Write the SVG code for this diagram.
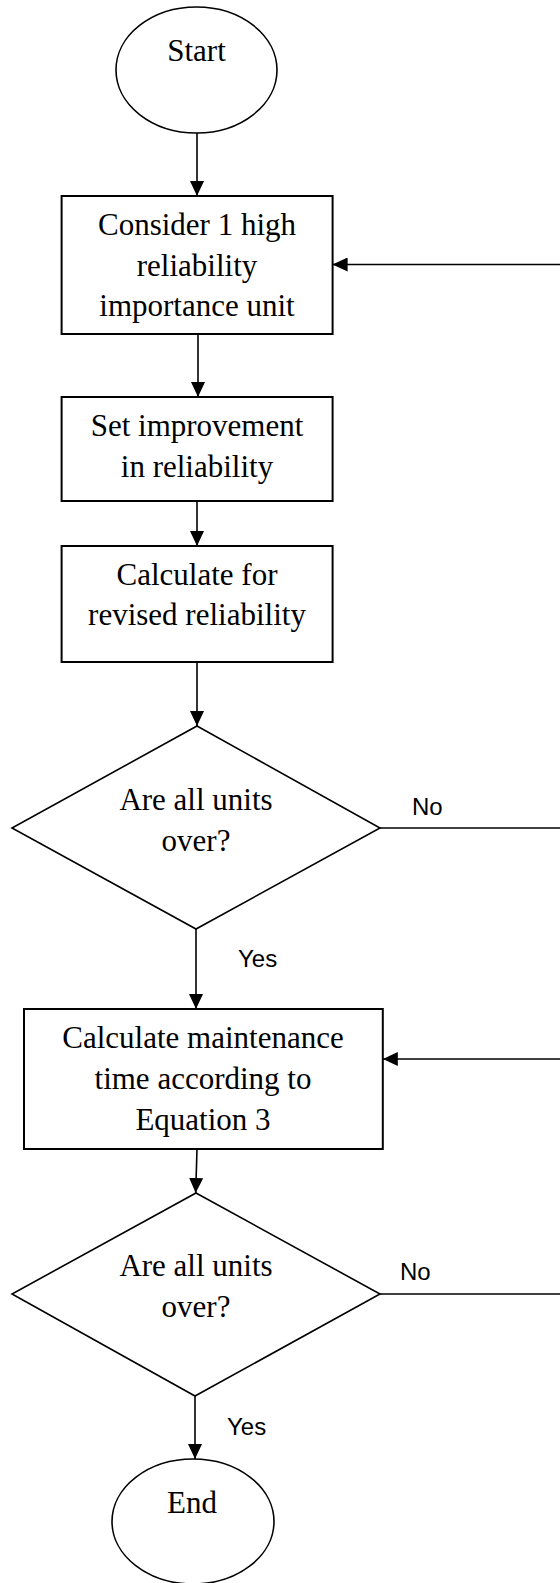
<svg xmlns="http://www.w3.org/2000/svg" width="560" height="1583" viewBox="0 0 560 1583">
  <style>
    .shape { fill: #ffffff; stroke: #000000; stroke-width: 1.6; }
    .box { fill: #ffffff; stroke: #000000; stroke-width: 2; }
    .label { font-family: "Liberation Serif", "Times New Roman", serif; font-size: 31px; fill: #000000; text-anchor: middle; }
    .branch { font-family: "Liberation Sans", Arial, sans-serif; font-size: 24px; fill: #000000; }
    .conn { fill: none; stroke: #000000; stroke-width: 1.6; }
    .arrow { marker-end: url(#head); }
  </style>
  <defs>
    <marker id="head" markerUnits="userSpaceOnUse" markerWidth="15" markerHeight="14" refX="15" refY="7" orient="auto">
      <path d="M0,0 L15,7 L0,14 Z" fill="#000000"/>
    </marker>
  </defs>

  <rect x="0" y="0" width="560" height="1583" fill="#ffffff"/>

  <!-- connectors -->
  <g id="connectors">
    <line class="conn arrow" x1="197" y1="133" x2="197" y2="196"/>
    <line class="conn arrow" x1="198" y1="334" x2="198" y2="397"/>
    <line class="conn arrow" x1="197" y1="501" x2="197" y2="546"/>
    <line class="conn arrow" x1="197" y1="662" x2="197" y2="726"/>
    <line class="conn arrow" x1="196" y1="929" x2="196" y2="1009"/>
    <line class="conn arrow" x1="197" y1="1149" x2="195.7" y2="1193"/>
    <line class="conn arrow" x1="195" y1="1396" x2="195" y2="1459"/>
    <line class="conn" x1="380" y1="828" x2="560" y2="828"/>
    <line class="conn" x1="380" y1="1294" x2="560" y2="1294"/>
    <line class="conn arrow" x1="560" y1="264.5" x2="332.6" y2="264.5"/>
    <line class="conn arrow" x1="560" y1="1059" x2="382.8" y2="1059"/>
    <text class="branch" x="412" y="815">No</text>
    <text class="branch" x="238" y="967">Yes</text>
    <text class="branch" x="400" y="1280">No</text>
    <text class="branch" x="227" y="1435">Yes</text>
  </g>

  <g id="start">
    <ellipse class="shape" cx="196.5" cy="70" rx="80.5" ry="63"/>
    <text class="label" x="196.5" y="61">Start</text>
  </g>

  <g id="consider-unit">
    <rect class="box" x="61.6" y="196" width="271" height="138"/>
    <text class="label" x="197" y="235">Consider 1 high</text>
    <text class="label" x="197" y="276">reliability</text>
    <text class="label" x="197" y="316">importance unit</text>
  </g>

  <g id="set-improvement">
    <rect class="box" x="61.6" y="397" width="271" height="104"/>
    <text class="label" x="197" y="436">Set improvement</text>
    <text class="label" x="197" y="477">in reliability</text>
  </g>

  <g id="revised-reliability">
    <rect class="box" x="61.6" y="546" width="271" height="116"/>
    <text class="label" x="197" y="585">Calculate for</text>
    <text class="label" x="197" y="625">revised reliability</text>
  </g>

  <g id="check-units-1">
    <polygon class="shape" points="197,726 380,828 196,929 12,828"/>
    <text class="label" x="196" y="810">Are all units</text>
    <text class="label" x="196" y="851">over?</text>
  </g>

  <g id="maintenance-time">
    <rect class="box" x="24" y="1009" width="358.8" height="140"/>
    <text class="label" x="203" y="1047.5">Calculate maintenance</text>
    <text class="label" x="203" y="1089">time according to</text>
    <text class="label" x="203" y="1130">Equation 3</text>
  </g>

  <g id="check-units-2">
    <polygon class="shape" points="196,1193 380,1294 195,1396 12,1294"/>
    <text class="label" x="196" y="1276">Are all units</text>
    <text class="label" x="196" y="1317">over?</text>
  </g>

  <g id="end">
    <ellipse class="shape" cx="193" cy="1521.5" rx="81" ry="62.5"/>
    <text class="label" x="192" y="1513">End</text>
  </g>
</svg>
